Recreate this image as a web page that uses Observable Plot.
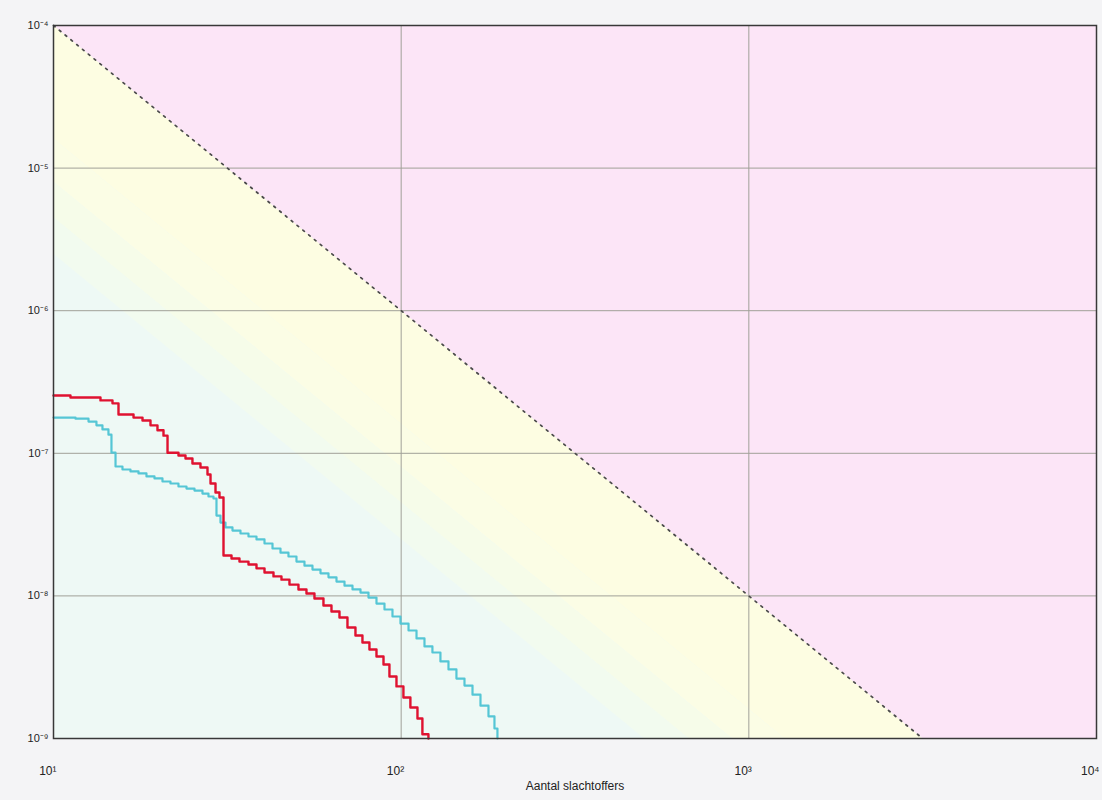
<!DOCTYPE html>
<html>
<head>
<meta charset="utf-8">
<script src="https://cdn.jsdelivr.net/npm/d3@7"></script>
<script src="https://cdn.jsdelivr.net/npm/@observablehq/plot@0.6"></script>
<style>
  html, body { margin: 0; padding: 0; background: #f4f4f6; }
  #chart { width: 1102px; height: 800px; }
</style>
</head>
<body>
<div id="chart"></div>
<script>
// Red FN curve (number of victims N, frequency per year)
const redX = [10, 11.19, 13.65, 14.78, 15.38, 16.99, 18.03, 19.01, 19.91, 20.72, 21.28, 22.88, 23.97, 25.10, 26.47, 27.73, 28.29, 29.24, 30.02, 30.83, 32.51, 34.27, 36.38, 38.36, 40.45, 42.93, 45.26, 47.72, 50.65, 53.41, 56.31, 59.77, 63.03, 66.46, 70.07, 73.88, 77.38, 81.05, 84.92, 88.96, 92.53, 96.94, 101.5, 106.3, 111.4, 115.1, 119.8];
const redY = [2.54e-7, 2.46e-7, 2.35e-7, 2.24e-7, 1.87e-7, 1.78e-7, 1.70e-7, 1.57e-7, 1.45e-7, 1.33e-7, 1.01e-7, 9.65e-8, 9.19e-8, 8.48e-8, 7.95e-8, 7.10e-8, 6.14e-8, 5.31e-8, 4.90e-8, 1.92e-8, 1.83e-8, 1.74e-8, 1.66e-8, 1.56e-8, 1.46e-8, 1.37e-8, 1.30e-8, 1.20e-8, 1.11e-8, 1.04e-8, 9.59e-9, 8.56e-9, 7.77e-9, 7.06e-9, 6.00e-9, 5.28e-9, 4.71e-9, 4.21e-9, 3.76e-9, 3.30e-9, 2.72e-9, 2.32e-9, 1.94e-9, 1.65e-9, 1.38e-9, 1.07e-9, 1e-9];

// Cyan FN curve
const cyanX = [10, 11.57, 12.61, 13.29, 13.83, 14.39, 14.68, 15.08, 15.79, 16.65, 17.56, 18.51, 19.52, 20.58, 21.70, 22.88, 24.13, 25.44, 26.82, 27.91, 28.85, 29.43, 30.22, 31.24, 32.72, 34.50, 36.38, 38.36, 40.45, 42.65, 44.97, 47.41, 49.99, 52.71, 55.58, 58.61, 61.80, 65.16, 68.71, 72.45, 76.39, 80.54, 84.92, 89.54, 94.41, 99.54, 105.0, 110.7, 116.7, 123.0, 129.7, 136.8, 144.2, 152.1, 160.4, 169.1, 178.3, 185.5, 189.2];
const cyanY = [1.78e-7, 1.75e-7, 1.67e-7, 1.57e-7, 1.47e-7, 1.35e-7, 1.01e-7, 8.08e-8, 7.70e-8, 7.46e-8, 7.22e-8, 6.88e-8, 6.66e-8, 6.34e-8, 6.14e-8, 5.85e-8, 5.66e-8, 5.48e-8, 5.22e-8, 4.98e-8, 4.82e-8, 3.66e-8, 3.27e-8, 3.02e-8, 2.87e-8, 2.74e-8, 2.61e-8, 2.49e-8, 2.33e-8, 2.15e-8, 2.01e-8, 1.89e-8, 1.74e-8, 1.63e-8, 1.53e-8, 1.44e-8, 1.35e-8, 1.26e-8, 1.18e-8, 1.11e-8, 1.056e-8, 9.74e-9, 8.84e-9, 8.03e-9, 7.17e-9, 6.40e-9, 5.72e-9, 5.03e-9, 4.42e-9, 4.01e-9, 3.47e-9, 3.05e-9, 2.63e-9, 2.35e-9, 2.03e-9, 1.70e-9, 1.43e-9, 1.175e-9, 1e-9];

// Axes
const xTicks = [10, 100, 1000, 10000];
const xTickLabels = ["10¹", "10²", "10³", "10⁴"];
const yTicks = [1e-4, 1e-5, 1e-6, 1e-7, 1e-8, 1e-9];
const yTickLabels = ["10⁻⁴", "10⁻⁵", "10⁻⁶", "10⁻⁷", "10⁻⁸", "10⁻⁹"];
const xGrid = [100, 1000];
const yGrid = [1e-5, 1e-6, 1e-7, 1e-8];
const xTitle = "Aantal slachtoffers";

// Norm line: F = C / N^2, and the soft yellow band below it
const normConstant = 1e-2;
const bandConstants = [1e-2, 1.6e-3, 8e-4, 4.5e-4, 2.5e-4];
const bandColors = ["#fdfde2", "#fbfde5", "#f6fce9", "#f2fbef"];

const xDomain = [10, 1e4];
const yDomain = [1e-9, 1e-4];

const clampY = v => Math.max(yDomain[0], Math.min(yDomain[1], v));
const samples = d3.range(0, 601).map(i => 10 ** (1 + 3 * i / 600));

const pinkData = samples.map(x => ({x, y1: clampY(normConstant / (x * x)), y2: yDomain[1]}));
const bandData = [];
for (let b = 0; b < bandColors.length; b++) {
  for (const x of samples) {
    bandData.push({band: b, x, y1: clampY(bandConstants[b] / (x * x)), y2: clampY(bandConstants[b + 1] / (x * x))});
  }
}
const normEndX = Math.sqrt(normConstant / yDomain[0]);
const normLine = [{x: xDomain[0], y: normConstant / (xDomain[0] ** 2)}, {x: normEndX, y: yDomain[0]}];

const redData = redX.map((x, i) => ({x, y: redY[i]}));
const cyanData = cyanX.map((x, i) => ({x, y: cyanY[i]}));

const chart = Plot.plot({
  width: 1102,
  height: 800,
  marginLeft: 53,
  marginRight: 6,
  marginTop: 25,
  marginBottom: 62,
  x: {type: "log", domain: xDomain, axis: null},
  y: {type: "log", domain: yDomain, axis: null},
  style: {background: "#f4f4f6", fontFamily: "'Liberation Sans', Arial, sans-serif", color: "#222"},
  marks: [
    Plot.frame({fill: "#eef9f5", stroke: null}),
    ...bandColors.map((c, b) => Plot.areaY(bandData.filter(d => d.band === b), {x: "x", y1: "y1", y2: "y2", fill: c})),
    Plot.areaY(pinkData, {x: "x", y1: "y1", y2: "y2", fill: "#fce5f7"}),
    Plot.gridX(xGrid, {stroke: "#a0a098", strokeOpacity: 1, strokeWidth: 1}),
    Plot.gridY(yGrid, {stroke: "#a0a098", strokeOpacity: 1, strokeWidth: 1}),
    Plot.line(normLine, {x: "x", y: "y", stroke: "#4a4a4a", strokeWidth: 1.7, strokeDasharray: "2,5.5"}),
    Plot.line(cyanData, {x: "x", y: "y", curve: "step-after", stroke: "#55c6d5", strokeWidth: 2.2}),
    Plot.line(redData, {x: "x", y: "y", curve: "step-after", stroke: "#df1230", strokeWidth: 2.4}),
    Plot.frame({stroke: "#383838", strokeWidth: 1.5}),
    Plot.axisX(xTicks, {label: null, tickSize: 0, tickPadding: 28, textAnchor: "end", dx: 3, fontSize: 12,
      tickFormat: d => xTickLabels[xTicks.indexOf(d)]}),
    Plot.axisY(yTicks, {label: null, tickSize: 0, tickPadding: 5, fontSize: 11,
      tickFormat: d => yTickLabels[yTicks.indexOf(d)]}),
    Plot.text([xTitle], {frameAnchor: "bottom", dy: 51, fontSize: 12, fill: "#222"})
  ]
});
document.getElementById("chart").appendChild(chart);
</script>
</body>
</html>
